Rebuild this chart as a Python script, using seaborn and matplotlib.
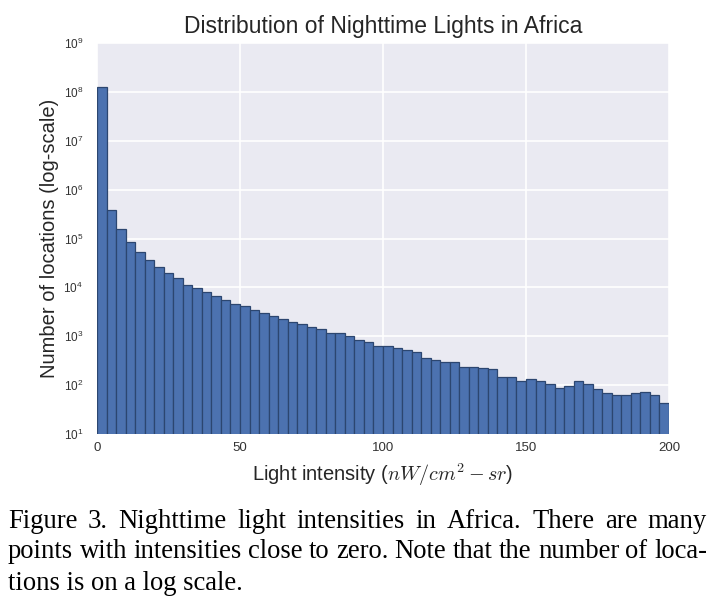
import numpy as np
import pandas as pd
import matplotlib
matplotlib.use("Agg")
import matplotlib.pyplot as plt
import seaborn as sns

# ---- data (60 bins over 0..200) ----
bin_lo = 0
bin_hi = 200
n_bins = 60
counts = [
    1.27e8, 3.8e5, 1.55e5, 8.5e4, 5.2e4, 3.6e4, 2.6e4, 1.96e4, 1.55e4, 1.13e4,
    9.7e3, 8.0e3, 6.7e3, 5.6e3, 4.6e3, 4.2e3, 3.5e3, 3.0e3, 2.6e3, 2.3e3,
    2.0e3, 1.78e3, 1.56e3, 1.38e3, 1.17e3, 1.17e3, 1.02e3, 850, 750, 645,
    645, 565, 524, 468, 364, 326, 302, 302, 238, 238,
    228, 213, 149, 149, 123, 133, 119, 104, 86, 97,
    119, 104, 82, 68, 63, 63, 68, 73, 64, 44,
]
title = "Distribution of Nighttime Lights in Africa"
xlabel = r"Light intensity ($nW/cm^2 - sr$)"
ylabel = "Number of locations (log-scale)"
caption_lines = [
    "Figure 3. Nighttime light intensities in Africa.  There are many",
    "points with intensities close to zero. Note that the number of loca-",
    "tions is on a log scale.",
]

edges = np.linspace(bin_lo, bin_hi, n_bins + 1)
centers = (edges[:-1] + edges[1:]) / 2
df = pd.DataFrame({"intensity": centers, "count": counts})

sns.set_style("darkgrid", {"axes.facecolor": "#EAEAF2", "grid.color": "white"})
plt.rcParams["font.family"] = ["Liberation Sans", "DejaVu Sans"]
plt.rcParams["mathtext.fontset"] = "cm"

W, H = 714, 613
fig = plt.figure(figsize=(W / 100, H / 100), dpi=100)
ax = fig.add_axes([97 / W, 1 - 434 / H, (669 - 97) / W, (434 - 43) / H])

sns.histplot(data=df, x="intensity", weights="count", bins=n_bins,
             binrange=(bin_lo, bin_hi), ax=ax,
             color="#4C72B0", edgecolor="#2c4670", linewidth=0.9, alpha=1.0)
ax.set_yscale("log")
ax.set_ylim(10, 1e9)
ax.set_xlim(bin_lo, bin_hi)
ax.set_xticks([0, 50, 100, 150, 200])
ax.set_yticks([10 ** k for k in range(1, 10)])
ax.minorticks_off()
ax.grid(True, color="white", linewidth=1.2)
ax.tick_params(axis="both", length=0, labelcolor="#333333")
ax.tick_params(axis="x", labelsize=9.5, pad=6)
ax.tick_params(axis="y", labelsize=8.5, pad=10)
ax.set_title(title, fontsize=16.5, color="#262626", pad=7)
ax.set_xlabel(xlabel, fontsize=14.5, color="#262626", labelpad=5)
ax.set_ylabel(ylabel, fontsize=14.5, color="#262626", labelpad=3)
for s in ax.spines.values():
    s.set_visible(False)

# ---- caption, justified like the source document ----
fig.canvas.draw()
renderer = fig.canvas.get_renderer()
left_px, right_px = 8, 707
cap_font = dict(family="Liberation Serif", fontsize=19.2, color="black")
ys = [521, 552, 583]
for i, (line, y) in enumerate(zip(caption_lines, ys)):
    yf = 1 - y / H
    if i == len(caption_lines) - 1:
        fig.text(left_px / W, yf, line, va="center", ha="left", **cap_font)
        continue
    words = line.split()
    widths = []
    for w in words:
        t = fig.text(0, 0, w, **cap_font)
        widths.append(t.get_window_extent(renderer).width)
        t.remove()
    gap = (right_px - left_px - sum(widths)) / (len(words) - 1)
    x = left_px
    for w, wd in zip(words, widths):
        fig.text(x / W, yf, w, va="center", ha="left", **cap_font)
        x += wd + gap

fig.savefig("out.png", dpi=100)
